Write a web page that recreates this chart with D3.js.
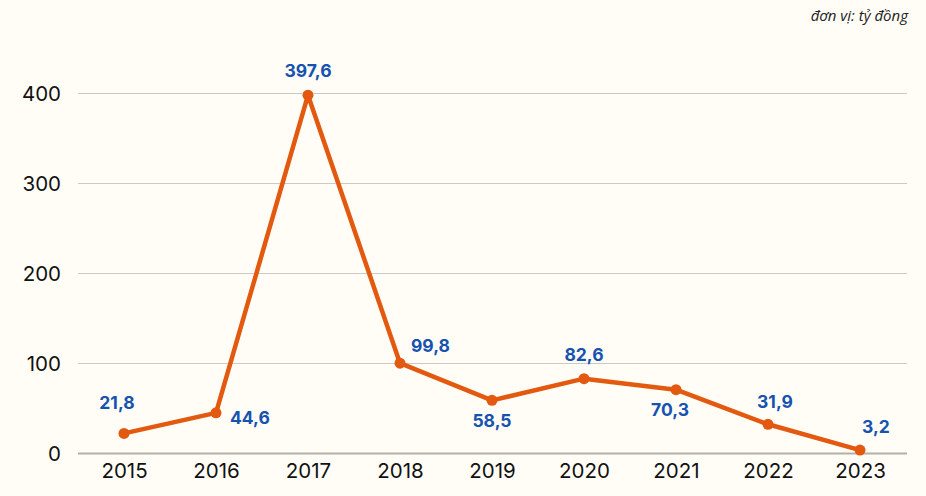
<!DOCTYPE html>
<html><head><meta charset="utf-8">
<script src="https://cdn.jsdelivr.net/npm/d3@7"></script>
<style>html,body{margin:0;padding:0;background:#fffdf6;}svg{display:block;}</style>
</head><body>
<svg id="c" width="926" height="496"></svg>
<script>
const years = ["2015","2016","2017","2018","2019","2020","2021","2022","2023"];
const values = [21.8, 44.6, 397.6, 99.8, 58.5, 82.6, 70.3, 31.9, 3.2];
const valueLabels = ["21,8","44,6","397,6","99,8","58,5","82,6","70,3","31,9","3,2"];
const labelPlacement = ["above-left","right","above","right-above","below","above","below-left","above-right","above-far-right"];
const yTicks = [0, 100, 200, 300, 400];
const unitText = "đơn vị: tỷ đồng";

const svg = d3.select("#c");
const W = 926, H = 496;
const x = d3.scalePoint().domain(years).range([124, 860]);
const y = d3.scaleLinear().domain([0, 400]).range([453, 93]);

svg.append("rect").attr("width", W).attr("height", H).attr("fill", "#fffdf6");

// grid
svg.append("g").selectAll("line").data(yTicks).join("line")
  .attr("x1", 78).attr("x2", 907)
  .attr("y1", d => y(d) + 0.5).attr("y2", d => y(d) + 0.5)
  .attr("stroke", d => d === 0 ? "#b3b0aa" : "#cccac4")
  .attr("stroke-width", d => d === 0 ? 2 : 1);

// y axis labels
const yAxis = d3.axisLeft(y).tickValues(yTicks).tickSize(0).tickPadding(0).tickFormat(d3.format("d"));
const gy = svg.append("g").attr("transform", "translate(61,0)").call(yAxis);
gy.select(".domain").remove();
gy.selectAll("text").attr("font-family", "Inter, 'Noto Sans', sans-serif").attr("font-size", 20.5)
  .attr("fill", "#111").attr("dy", "0.36em");

// x axis labels
const xAxis = d3.axisBottom(x).tickSize(0).tickPadding(0);
const gx = svg.append("g").attr("transform", "translate(0,461)").call(xAxis);
gx.select(".domain").remove();
gx.selectAll("text").attr("font-family", "Inter, 'Noto Sans', sans-serif").attr("font-size", 20.5)
  .attr("fill", "#111").attr("dy", "0.85em");

// line
const line = d3.line().x((d, i) => x(years[i])).y(d => y(d));
svg.append("path").datum(values).attr("d", line)
  .attr("fill", "none").attr("stroke", "#e2590f").attr("stroke-width", 4.5)
  .attr("stroke-linejoin", "round").attr("stroke-linecap", "round");

svg.append("g").selectAll("circle").data(values).join("circle")
  .attr("cx", (d, i) => x(years[i])).attr("cy", d => y(d)).attr("r", 5.5)
  .attr("fill", "#e2590f");

// data labels
const off = {
  "above-left": {dx: -7, dy: -31, a: "middle"},
  "right": {dx: 14, dy: 5, a: "start"},
  "above": {dx: 0, dy: -24, a: "middle"},
  "right-above": {dx: 11, dy: -17, a: "start"},
  "below": {dx: 0, dy: 20, a: "middle"},
  "below-left": {dx: -6, dy: 20, a: "middle"},
  "above-right": {dx: 7, dy: -23, a: "middle"},
  "above-far-right": {dx: 16, dy: -23, a: "middle"}
};
svg.append("g").selectAll("text").data(values).join("text")
  .attr("x", (d, i) => x(years[i]) + off[labelPlacement[i]].dx)
  .attr("y", (d, i) => y(d) + off[labelPlacement[i]].dy)
  .attr("text-anchor", (d, i) => off[labelPlacement[i]].a)
  .attr("dy", "0.36em")
  .attr("font-family", "Inter, 'Noto Sans', sans-serif").attr("font-weight", 700)
  .attr("font-size", 17.5).attr("fill", "#1652b0")
  .text((d, i) => valueLabels[i]);

svg.append("text").attr("x", 908).attr("y", 21).attr("text-anchor", "end")
  .attr("font-family", "'Open Sans', 'Noto Sans', sans-serif").attr("font-style", "italic")
  .attr("font-size", 15).attr("fill", "#222").text(unitText);
</script>
</body></html>
